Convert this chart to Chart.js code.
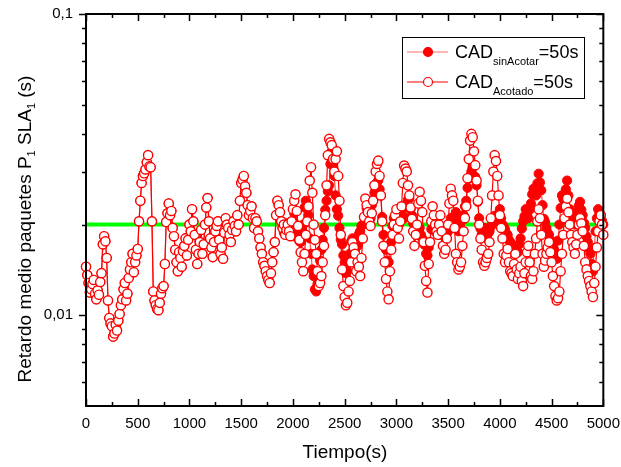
<!DOCTYPE html>
<html>
<head>
<meta charset="utf-8">
<script src="https://cdn.jsdelivr.net/npm/chart.js@4.4.1/dist/chart.umd.min.js"></script>
<style>
  body { margin: 0; background: #fff; }
  #wrap { width: 621px; height: 467px; }
</style>
</head>
<body>
<div id="wrap"><canvas id="chart" width="621" height="467"></canvas></div>
<script>
// sample times (s), one every 12.5 s
const tiempos = [];
for (let t = 0; t <= 5000; t += 12.5) tiempos.push(t);

// CAD_Acotado = 50s (open circles), 16 values = 200 s per row
const acotado = [
  0.0145, 0.0136, 0.0128, 0.0119, 0.0122, 0.0127, 0.0131, 0.0118, 0.0113, 0.0121, 0.0117, 0.0129, 0.0138, 0.0172, 0.0183, 0.0176,
  0.0155, 0.0112, 0.0098, 0.0094, 0.0092, 0.0085, 0.0087, 0.0093, 0.0089, 0.0096, 0.0101, 0.0108, 0.0113, 0.0122, 0.0128, 0.0112,
  0.0118, 0.0133, 0.0142, 0.0150, 0.0160, 0.0139, 0.0150, 0.0158, 0.0166, 0.0205, 0.0240, 0.0275, 0.0290, 0.0296, 0.0305, 0.0322,
  0.0340, 0.0312, 0.0310, 0.0205, 0.0120, 0.0112, 0.0108, 0.0105, 0.0104, 0.0110, 0.0118, 0.0123, 0.0125, 0.0148, 0.0204, 0.0218,
  0.0235, 0.0215, 0.0222, 0.0195, 0.0183, 0.0165, 0.0150, 0.0140, 0.0162, 0.0155, 0.0145, 0.0163, 0.0170, 0.0180, 0.0158, 0.0178,
  0.0200, 0.0190, 0.0225, 0.0205, 0.0185, 0.0165, 0.0148, 0.0160, 0.0175, 0.0192, 0.0160, 0.0172, 0.0200, 0.0228, 0.0245, 0.0205,
  0.0180, 0.0168, 0.0156, 0.0175, 0.0190, 0.0198, 0.0205, 0.0178, 0.0160, 0.0168, 0.0154, 0.0188, 0.0210, 0.0200, 0.0195, 0.0185,
  0.0175, 0.0192, 0.0205, 0.0198, 0.0190, 0.0215, 0.0200, 0.0240, 0.0275, 0.0282, 0.0290, 0.0268, 0.0255, 0.0232, 0.0215, 0.0222,
  0.0230, 0.0210, 0.0195, 0.0210, 0.0205, 0.0190, 0.0180, 0.0168, 0.0160, 0.0150, 0.0146, 0.0140, 0.0135, 0.0131, 0.0128, 0.0138,
  0.0150, 0.0162, 0.0175, 0.0215, 0.0240, 0.0232, 0.0220, 0.0205, 0.0195, 0.0200, 0.0185, 0.0192, 0.0200, 0.0190, 0.0183, 0.0205,
  0.0225, 0.0240, 0.0252, 0.0222, 0.0198, 0.0178, 0.0162, 0.0150, 0.0140, 0.0160, 0.0185, 0.0205, 0.0230, 0.0280, 0.0310, 0.0255,
  0.0200, 0.0178, 0.0160, 0.0140, 0.0125, 0.0128, 0.0135, 0.0150, 0.0170, 0.0215, 0.0270, 0.0340, 0.0385, 0.0375, 0.0367, 0.0330,
  0.0300, 0.0330, 0.0350, 0.0290, 0.0240, 0.0185, 0.0142, 0.0125, 0.0115, 0.0108, 0.0110, 0.0120, 0.0130, 0.0150, 0.0175, 0.0168,
  0.0160, 0.0140, 0.0150, 0.0145, 0.0135, 0.0155, 0.0180, 0.0212, 0.0244, 0.0232, 0.0220, 0.0205, 0.0198, 0.0218, 0.0240, 0.0270,
  0.0300, 0.0318, 0.0326, 0.0290, 0.0250, 0.0205, 0.0170, 0.0150, 0.0132, 0.0120, 0.0113, 0.0140, 0.0165, 0.0185, 0.0200, 0.0215,
  0.0225, 0.0195, 0.0180, 0.0205, 0.0230, 0.0275, 0.0314, 0.0307, 0.0300, 0.0270, 0.0250, 0.0228, 0.0209, 0.0190, 0.0170, 0.0185,
  0.0200, 0.0235, 0.0257, 0.0240, 0.0220, 0.0175, 0.0146, 0.0130, 0.0119, 0.0148, 0.0175, 0.0205, 0.0230, 0.0215, 0.0200, 0.0190,
  0.0185, 0.0200, 0.0215, 0.0190, 0.0170, 0.0160, 0.0165, 0.0180, 0.0200, 0.0235, 0.0263, 0.0250, 0.0240, 0.0195, 0.0160, 0.0150,
  0.0142, 0.0145, 0.0150, 0.0170, 0.0190, 0.0210, 0.0230, 0.0285, 0.0330, 0.0380, 0.0400, 0.0390, 0.0350, 0.0315, 0.0280, 0.0240,
  0.0200, 0.0180, 0.0165, 0.0150, 0.0146, 0.0150, 0.0155, 0.0160, 0.0175, 0.0210, 0.0250, 0.0300, 0.0340, 0.0325, 0.0290, 0.0250,
  0.0215, 0.0195, 0.0180, 0.0160, 0.0150, 0.0158, 0.0166, 0.0150, 0.0140, 0.0138, 0.0135, 0.0148, 0.0160, 0.0142, 0.0132, 0.0138,
  0.0145, 0.0130, 0.0125, 0.0138, 0.0150, 0.0162, 0.0170, 0.0150, 0.0135, 0.0132, 0.0140, 0.0160, 0.0180, 0.0205, 0.0225, 0.0210,
  0.0185, 0.0160, 0.0145, 0.0152, 0.0160, 0.0168, 0.0175, 0.0162, 0.0150, 0.0135, 0.0125, 0.0116, 0.0112, 0.0114, 0.0120, 0.0140,
  0.0160, 0.0185, 0.0210, 0.0230, 0.0244, 0.0220, 0.0200, 0.0185, 0.0175, 0.0168, 0.0160, 0.0172, 0.0185, 0.0200, 0.0210, 0.0202,
  0.0190, 0.0170, 0.0150, 0.0142, 0.0135, 0.0130, 0.0125, 0.0120, 0.0115, 0.0128, 0.0145, 0.0168, 0.0190, 0.0205, 0.0215, 0.0200,
  0.0185
];

// CAD_sinAcotar = 50s (filled circles), same layout
const sinAcotar = [
  0.0145, 0.0136, 0.0128, 0.0119, 0.0122, 0.0127, 0.0131, 0.0118, 0.0113, 0.0121, 0.0117, 0.0129, 0.0138, 0.0172, 0.0183, 0.0176,
  0.0155, 0.0112, 0.0098, 0.0094, 0.0092, 0.0085, 0.0087, 0.0093, 0.0089, 0.0096, 0.0101, 0.0108, 0.0113, 0.0122, 0.0128, 0.0112,
  0.0118, 0.0133, 0.0142, 0.0150, 0.0160, 0.0139, 0.0150, 0.0158, 0.0166, 0.0205, 0.0240, 0.0275, 0.0290, 0.0296, 0.0305, 0.0322,
  0.0340, 0.0312, 0.0310, 0.0205, 0.0120, 0.0112, 0.0108, 0.0105, 0.0104, 0.0110, 0.0118, 0.0123, 0.0125, 0.0148, 0.0204, 0.0218,
  0.0235, 0.0215, 0.0222, 0.0195, 0.0183, 0.0165, 0.0150, 0.0140, 0.0162, 0.0155, 0.0145, 0.0163, 0.0170, 0.0180, 0.0158, 0.0178,
  0.0200, 0.0190, 0.0225, 0.0205, 0.0185, 0.0165, 0.0148, 0.0160, 0.0175, 0.0192, 0.0160, 0.0172, 0.0200, 0.0228, 0.0245, 0.0205,
  0.0180, 0.0168, 0.0156, 0.0175, 0.0190, 0.0198, 0.0205, 0.0178, 0.0160, 0.0168, 0.0154, 0.0188, 0.0210, 0.0200, 0.0195, 0.0185,
  0.0175, 0.0192, 0.0205, 0.0198, 0.0190, 0.0215, 0.0200, 0.0240, 0.0275, 0.0282, 0.0290, 0.0268, 0.0255, 0.0232, 0.0215, 0.0222,
  0.0230, 0.0210, 0.0195, 0.0210, 0.0205, 0.0190, 0.0180, 0.0168, 0.0160, 0.0150, 0.0146, 0.0140, 0.0135, 0.0131, 0.0128, 0.0138,
  0.0150, 0.0162, 0.0175, 0.0215, 0.0240, 0.0232, 0.0220, 0.0205, 0.0195, 0.0188, 0.0190, 0.0202, 0.0200, 0.0186, 0.0185, 0.0204,
  0.0205, 0.0218, 0.0200, 0.0181, 0.0190, 0.0176, 0.0175, 0.0192, 0.0200, 0.0228, 0.0240, 0.0226, 0.0215, 0.0180, 0.0160, 0.0142,
  0.0135, 0.0122, 0.0120, 0.0127, 0.0130, 0.0152, 0.0165, 0.0178, 0.0195, 0.0224, 0.0240, 0.0258, 0.0270, 0.0318, 0.0350, 0.0316,
  0.0290, 0.0250, 0.0225, 0.0214, 0.0195, 0.0178, 0.0172, 0.0158, 0.0150, 0.0138, 0.0140, 0.0153, 0.0160, 0.0176, 0.0180, 0.0166,
  0.0165, 0.0178, 0.0170, 0.0186, 0.0190, 0.0198, 0.0200, 0.0211, 0.0214, 0.0226, 0.0230, 0.0214, 0.0210, 0.0232, 0.0240, 0.0255,
  0.0263, 0.0276, 0.0280, 0.0262, 0.0250, 0.0212, 0.0185, 0.0170, 0.0165, 0.0152, 0.0150, 0.0165, 0.0175, 0.0198, 0.0210, 0.0204,
  0.0215, 0.0202, 0.0200, 0.0215, 0.0225, 0.0214, 0.0210, 0.0228, 0.0235, 0.0242, 0.0244, 0.0225, 0.0215, 0.0202, 0.0200, 0.0189,
  0.0185, 0.0193, 0.0195, 0.0185, 0.0180, 0.0173, 0.0171, 0.0160, 0.0158, 0.0168, 0.0175, 0.0193, 0.0205, 0.0196, 0.0190, 0.0198,
  0.0200, 0.0190, 0.0185, 0.0192, 0.0195, 0.0184, 0.0180, 0.0187, 0.0190, 0.0202, 0.0210, 0.0203, 0.0200, 0.0214, 0.0220, 0.0203,
  0.0190, 0.0200, 0.0205, 0.0208, 0.0215, 0.0230, 0.0240, 0.0265, 0.0284, 0.0290, 0.0300, 0.0310, 0.0314, 0.0288, 0.0270, 0.0238,
  0.0210, 0.0194, 0.0185, 0.0192, 0.0195, 0.0186, 0.0180, 0.0187, 0.0190, 0.0197, 0.0200, 0.0209, 0.0214, 0.0208, 0.0205, 0.0217,
  0.0225, 0.0210, 0.0200, 0.0197, 0.0193, 0.0187, 0.0185, 0.0178, 0.0175, 0.0173, 0.0170, 0.0166, 0.0165, 0.0164, 0.0162, 0.0172,
  0.0180, 0.0194, 0.0205, 0.0213, 0.0225, 0.0216, 0.0210, 0.0224, 0.0235, 0.0252, 0.0263, 0.0254, 0.0250, 0.0274, 0.0295, 0.0276,
  0.0260, 0.0232, 0.0209, 0.0204, 0.0195, 0.0188, 0.0185, 0.0178, 0.0175, 0.0168, 0.0165, 0.0158, 0.0154, 0.0177, 0.0200, 0.0227,
  0.0250, 0.0243, 0.0240, 0.0262, 0.0280, 0.0250, 0.0225, 0.0216, 0.0210, 0.0203, 0.0200, 0.0212, 0.0220, 0.0231, 0.0238, 0.0224,
  0.0215, 0.0203, 0.0195, 0.0183, 0.0175, 0.0166, 0.0160, 0.0148, 0.0140, 0.0167, 0.0190, 0.0210, 0.0225, 0.0218, 0.0215, 0.0206,
  0.0200
];

// reference level (green line)
const referencia = 0.02;

const xTicks = [0, 500, 1000, 1500, 2000, 2500, 3000, 3500, 4000, 4500, 5000];
const yTicks = [0.01, 0.1];
const yMinor = [0.006, 0.007, 0.008, 0.009, 0.02, 0.03, 0.04, 0.05, 0.06, 0.07, 0.08, 0.09];

const FONT = '"Liberation Sans", Arial, sans-serif';

// frame, tick marks, titles and legend drawn like the original (Origin style)
const framePlugin = {
  id: 'frame',
  afterDraw(chart) {
    const ctx = chart.ctx;
    const a = chart.chartArea;
    const xs = chart.scales.x, ys = chart.scales.y;
    ctx.save();
    ctx.strokeStyle = '#000';
    ctx.lineWidth = 1.5;
    // x ticks (inward at bottom and top)
    for (let v = 0; v <= 5000; v += 250) {
      const px = Math.round(xs.getPixelForValue(v)) + 0.5;
      const len = v % 500 === 0 ? 7 : 4;
      ctx.beginPath();
      ctx.moveTo(px, a.bottom); ctx.lineTo(px, a.bottom - len);
      ctx.moveTo(px, a.top); ctx.lineTo(px, a.top + len);
      ctx.stroke();
    }
    // y ticks (outward on left, inward on right)
    const yAll = yTicks.map(v => [v, 7]).concat(yMinor.map(v => [v, 4]));
    yAll.forEach(([v, len]) => {
      const py = Math.round(ys.getPixelForValue(v)) + 0.5;
      ctx.beginPath();
      ctx.moveTo(a.left, py); ctx.lineTo(a.left - len, py);
      ctx.moveTo(a.right, py); ctx.lineTo(a.right - len, py);
      ctx.stroke();
    });
    ctx.lineWidth = 2;
    ctx.strokeRect(a.left, a.top, a.right - a.left, a.bottom - a.top);

    // x title
    ctx.fillStyle = '#000';
    ctx.font = '19px ' + FONT;
    ctx.textAlign = 'center';
    ctx.textBaseline = 'alphabetic';
    ctx.fillText('Tiempo(s)', 345, 458);

    // y title with subscripts
    const parts = [
      ['Retardo medio paquetes P', false], ['1', true],
      [' SLA', false], ['1', true], [' (s)', false]
    ];
    const big = '19px ' + FONT, small = '11px ' + FONT;
    let total = 0;
    parts.forEach(([t, sub]) => { ctx.font = sub ? small : big; total += ctx.measureText(t).width; });
    ctx.translate(31, 229);
    ctx.rotate(-Math.PI / 2);
    ctx.textAlign = 'left';
    let cx = -total / 2;
    parts.forEach(([t, sub]) => {
      ctx.font = sub ? small : big;
      ctx.fillText(t, cx, sub ? 4 : 0);
      cx += ctx.measureText(t).width;
    });
    ctx.restore();

    // legend box
    ctx.save();
    ctx.strokeStyle = '#000';
    ctx.lineWidth = 1;
    ctx.fillStyle = '#fff';
    ctx.fillRect(402.5, 37.5, 182, 61);
    ctx.strokeRect(402.5, 37.5, 182, 61);
    const rows = [
      { y: 52, sub: 'sinAcotar', line: '#ff6f6f', fill: '#ff0000' },
      { y: 82, sub: 'Acotado', line: '#ff0000', fill: '#ffffff' }
    ];
    rows.forEach(r => {
      ctx.strokeStyle = r.line;
      ctx.lineWidth = 1.2;
      ctx.beginPath(); ctx.moveTo(407, r.y); ctx.lineTo(448, r.y); ctx.stroke();
      ctx.beginPath(); ctx.arc(428, r.y, 4.5, 0, Math.PI * 2);
      ctx.fillStyle = r.fill; ctx.fill();
      ctx.strokeStyle = '#ff0000'; ctx.lineWidth = 1.2; ctx.stroke();
      ctx.fillStyle = '#000';
      ctx.textAlign = 'left';
      ctx.font = '18px ' + FONT;
      ctx.fillText('CAD', 455, r.y + 6);
      let w = ctx.measureText('CAD').width;
      ctx.font = '11px ' + FONT;
      ctx.fillText(r.sub, 455 + w, r.y + 13);
      w += ctx.measureText(r.sub).width;
      ctx.font = '18px ' + FONT;
      ctx.fillText('=50s', 455 + w, r.y + 6);
    });
    ctx.restore();
  }
};

const puntos = arr => tiempos.map((t, i) => ({ x: t, y: arr[i] }));

new Chart(document.getElementById('chart').getContext('2d'), {
  type: 'line',
  data: {
    datasets: [
      {
        label: 'sinAcotar',
        data: puntos(sinAcotar),
        borderColor: '#ff5050',
        borderWidth: 1.2,
        pointRadius: 4.6,
        pointBackgroundColor: '#ff0000',
        pointBorderColor: '#ff0000',
        pointBorderWidth: 1,
        clip: false,
        order: 1
      },
      {
        label: 'Acotado',
        data: puntos(acotado),
        borderColor: '#ff0000',
        borderWidth: 1.2,
        pointRadius: 4.6,
        pointBackgroundColor: '#ffffff',
        pointBorderColor: '#ff0000',
        pointBorderWidth: 1.4,
        clip: false,
        order: 0
      },
      {
        label: 'ref',
        data: [{ x: 0, y: referencia }, { x: 5000, y: referencia }],
        borderColor: '#00ff00',
        borderWidth: 4,
        pointRadius: 0,
        order: 2
      }
    ]
  },
  options: {
    responsive: false,
    animation: false,
    events: [],
    layout: { padding: { top: 13, right: 12, left: 0, bottom: 0 } },
    plugins: { legend: { display: false }, tooltip: { enabled: false } },
    scales: {
      x: {
        type: 'linear',
        min: 0, max: 5000,
        grid: { display: false },
        border: { display: false },
        afterBuildTicks: s => { s.ticks = xTicks.map(v => ({ value: v })); },
        afterFit: s => { s.height = 61; },
        ticks: {
          color: '#000',
          font: { family: FONT, size: 15 },
          padding: 1,
          maxRotation: 0,
          autoSkip: false,
          callback: v => String(v)
        }
      },
      y: {
        type: 'logarithmic',
        min: 0.005, max: 0.1,
        grid: { display: false },
        border: { display: false },
        afterBuildTicks: s => { s.ticks = yTicks.map(v => ({ value: v })); },
        afterFit: s => { s.width = 86; },
        ticks: {
          color: '#000',
          font: { family: FONT, size: 15 },
          padding: 5,
          autoSkip: false,
          callback: v => String(v).replace('.', ',')
        }
      }
    }
  },
  plugins: [framePlugin]
});
</script>
</body>
</html>
